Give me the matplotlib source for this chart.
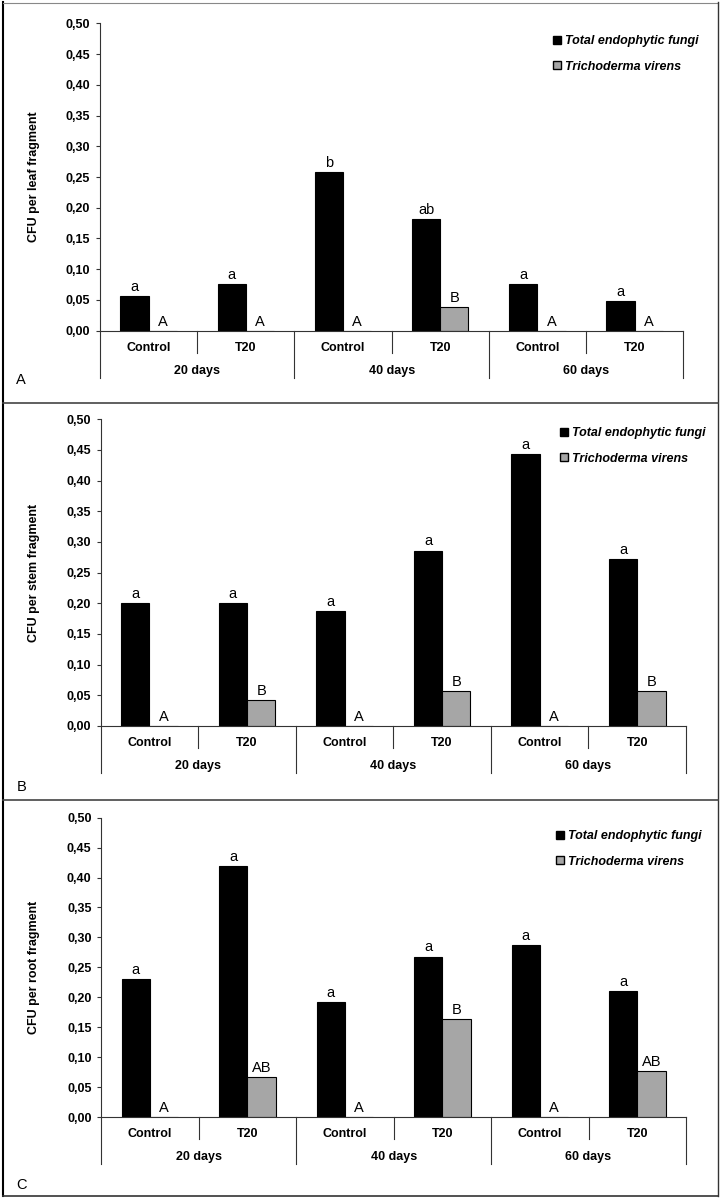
import numpy as np
import matplotlib.pyplot as plt
from matplotlib.patches import Patch
from matplotlib.lines import Line2D
from matplotlib.ticker import FuncFormatter
import matplotlib.transforms as mtransforms

plt.rcParams['font.family'] = ['Liberation Sans', 'DejaVu Sans']

treatments = ["Control", "T20", "Control", "T20", "Control", "T20"]
periods = ["20 days", "40 days", "60 days"]
series_names = ["Total endophytic fungi", "Trichoderma virens"]

# leaf
leaf_total = [0.057, 0.076, 0.258, 0.182, 0.076, 0.048]
leaf_virens = [0.0, 0.0, 0.0, 0.038, 0.0, 0.0]
leaf_total_letters = ["a", "a", "b", "ab", "a", "a"]
leaf_virens_letters = ["A", "A", "A", "B", "A", "A"]

# stem
stem_total = [0.200, 0.200, 0.188, 0.286, 0.444, 0.272]
stem_virens = [0.0, 0.043, 0.0, 0.057, 0.0, 0.057]
stem_total_letters = ["a", "a", "a", "a", "a", "a"]
stem_virens_letters = ["A", "B", "A", "B", "A", "B"]

# root
root_total = [0.230, 0.420, 0.192, 0.268, 0.287, 0.210]
root_virens = [0.0, 0.066, 0.0, 0.163, 0.0, 0.077]
root_total_letters = ["a", "a", "a", "a", "a", "a"]
root_virens_letters = ["A", "AB", "A", "B", "A", "AB"]

W, H = 721, 1200
fig = plt.figure(figsize=(W / 100, H / 100), dpi=100)

AXIS_COLOR = "#333333"
GREY = "#a6a6a6"


def draw_panel(box, total, virens, total_letters, virens_letters, ylabel, tag, tag_xy, leg_xy):
    left, right, top, bottom = box
    hp = bottom - top
    ax = fig.add_axes([left / W, 1 - bottom / H, (right - left) / W, hp / H])
    x = np.arange(len(total))
    w = 0.29
    ax.bar(x - w / 2, total, w, color="black", edgecolor="black", lw=0.8)
    ax.bar(x + w / 2, virens, w, color=GREY, edgecolor="black", lw=0.8)

    # letters above bars
    for xi, v, t in zip(x, total, total_letters):
        ax.annotate(t, (xi - w / 2, v), xytext=(0, 1.5), textcoords="offset points",
                    ha="center", va="bottom", fontsize=10.5)
    for xi, v, t in zip(x, virens, virens_letters):
        ax.annotate(t, (xi + w / 2, v), xytext=(0, 1.5), textcoords="offset points",
                    ha="center", va="bottom", fontsize=10.5)

    ax.set_xlim(-0.5, len(total) - 0.5)
    ax.set_ylim(0, 0.5)
    ax.set_yticks(np.arange(0, 0.51, 0.05))
    ax.yaxis.set_major_formatter(FuncFormatter(lambda v, p: f"{v:.2f}".replace(".", ",")))
    ax.set_xticks([])
    ax.tick_params(axis="y", direction="out", length=3, width=0.8, pad=4,
                   labelsize=9, color=AXIS_COLOR)
    for lab in ax.get_yticklabels():
        lab.set_fontweight("bold")
    for s in ["top", "right"]:
        ax.spines[s].set_visible(False)
    for s in ["left", "bottom"]:
        ax.spines[s].set_color(AXIS_COLOR)
        ax.spines[s].set_linewidth(0.8)

    # category separators below the axis
    trans = mtransforms.blended_transform_factory(ax.transData, ax.transAxes)
    for i, b in enumerate(np.arange(-0.5, len(total), 1.0)):
        drop = 47 if i % 2 == 0 else 22
        ax.plot([b, b], [0, -drop / hp], transform=trans, clip_on=False,
                color=AXIS_COLOR, lw=0.8)

    for xi, t in zip(x, treatments):
        ax.annotate(t, (xi, 0), xycoords=trans, xytext=(0, -17 * 0.72),
                    textcoords="offset points", ha="center", va="center",
                    fontsize=9, fontweight="bold")
    for k, p in enumerate(periods):
        ax.annotate(p, (2 * k + 0.5, 0), xycoords=trans, xytext=(0, -40 * 0.72),
                    textcoords="offset points", ha="center", va="center",
                    fontsize=9, fontweight="bold")

    ax.set_ylabel(ylabel, fontsize=9, fontweight="bold")
    ax.yaxis.set_label_coords((40 - left) / (right - left), 0.5)

    handles = [Patch(facecolor="black", edgecolor="black"),
               Patch(facecolor=GREY, edgecolor="black")]
    ax.legend(handles, series_names, loc="upper left",
              bbox_to_anchor=(leg_xy[0] / W, 1 - leg_xy[1] / H),
              bbox_transform=fig.transFigure, frameon=False,
              prop=dict(weight="bold", style="italic", size=9),
              handlelength=0.6, handleheight=0.6, handletextpad=0.35,
              labelspacing=1.1, borderpad=0, borderaxespad=0)

    fig.text(tag_xy[0] / W, 1 - tag_xy[1] / H, tag, ha="left", va="center", fontsize=10.5)
    return ax


draw_panel((100, 683.3, 23.3, 330.7), leaf_total, leaf_virens,
           leaf_total_letters, leaf_virens_letters,
           "CFU per leaf fragment", "A", (16, 380), (553, 35))
draw_panel((100.7, 686, 419.3, 726), stem_total, stem_virens,
           stem_total_letters, stem_virens_letters,
           "CFU per stem fragment", "B", (16.5, 787), (560, 427))
draw_panel((101.3, 686, 817.7, 1117), root_total, root_virens,
           root_total_letters, root_virens_letters,
           "CFU per root fragment", "C", (16.5, 1185), (556, 830))


# outer frame and panel dividers
def fig_line(x0, y0, x1, y1, color, lw):
    fig.add_artist(Line2D([x0 / W, x1 / W], [1 - y0 / H, 1 - y1 / H],
                          transform=fig.transFigure, color=color, lw=lw))


fig_line(3.5, 2, 3.5, 1196, "black", 1.5)
fig_line(3, 2.5, 718, 2.5, "#888888", 0.8)
fig_line(718, 2, 718, 1196, "#333333", 1.0)
fig_line(3, 1195.5, 718, 1195.5, "#333333", 1.2)
fig_line(3, 402.5, 718, 402.5, "#444444", 1.2)
fig_line(3, 800, 718, 800, "#444444", 1.2)

fig.savefig("out.png", dpi=100)
